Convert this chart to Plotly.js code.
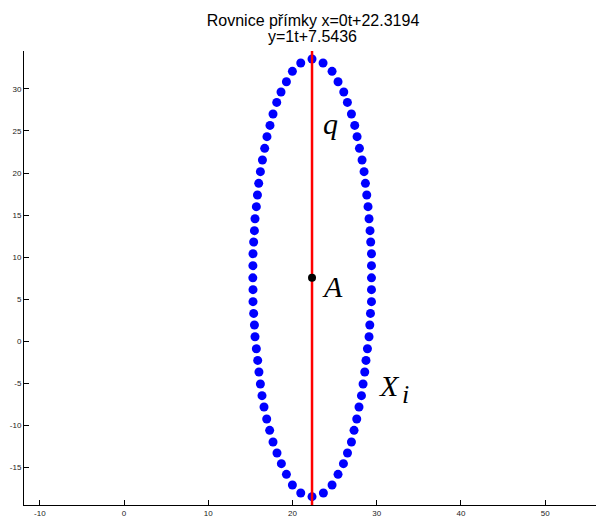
<!DOCTYPE html>
<html>
<head>
<meta charset="utf-8">
<script src="https://cdn.plot.ly/plotly-3.0.1.min.js"></script>
<style>
  html, body { margin: 0; padding: 0; background: #ffffff; }
  #chart { width: 596px; height: 518px; }
</style>
</head>
<body>
<div id="chart"></div>
<script>
// Line q: x = 0t + 22.3194, y = 1t + 7.5436
const lineDirX = 0, lineBaseX = 22.3194;
const lineDirY = 1, lineBaseY = 7.5436;
const lineT = [-27, 27];

// Point A on the line
const pointAX = [22.3194];
const pointAY = [7.5436];

// Points X_i: the two apexes, then the left and right flanks (top to bottom)
const apexX = [22.32, 22.32];
const apexY = [33.55, -18.46];
const flankY = [33.08, 32.08, 30.85, 29.63, 28.39, 27.01, 25.66, 24.32, 22.93, 21.55,
                20.16, 18.77, 17.39, 16.00, 14.57, 13.15, 11.80, 10.41, 8.99, 7.54,
                6.14, 4.71, 3.32, 1.94, 0.55, -0.88, -2.27, -3.64, -5.07, -6.46,
                -7.80, -9.23, -10.58, -11.96, -13.27, -14.54, -15.81, -17.07, -18.02];
const leftX = [20.98, 19.99, 19.28, 18.64, 18.13, 17.69, 17.33, 16.97, 16.70, 16.43,
               16.19, 15.99, 15.84, 15.71, 15.55, 15.48, 15.39, 15.31, 15.30, 15.29,
               15.31, 15.31, 15.39, 15.48, 15.55, 15.71, 15.87, 16.02, 16.19, 16.38,
               16.62, 16.94, 17.29, 17.69, 18.16, 18.68, 19.28, 19.99, 20.98];
const rightX = [23.63, 24.70, 25.41, 26.09, 26.52, 27.00, 27.39, 27.67, 27.95, 28.26,
                28.50, 28.66, 28.82, 28.97, 29.09, 29.21, 29.29, 29.38, 29.38, 29.38,
                29.38, 29.38, 29.26, 29.18, 29.09, 28.90, 28.73, 28.58, 28.38, 28.19,
                27.90, 27.63, 27.31, 27.00, 26.53, 26.05, 25.41, 24.70, 23.67];

// Axis ticks
const xTicks = [-10, 0, 10, 20, 30, 40, 50];
const yTicks = [-15, -10, -5, 0, 5, 10, 15, 20, 25, 30];

const titleLines = ['Rovnice přímky x=0t+22.3194', 'y=1t+7.5436'];

const ptsX = apexX.concat(leftX, rightX);
const ptsY = apexY.concat(flankY, flankY);

const lineX = lineT.map(t => lineDirX * t + lineBaseX);
const lineY = lineT.map(t => lineDirY * t + lineBaseY);

const traces = [
  {
    x: ptsX, y: ptsY, type: 'scatter', mode: 'markers',
    marker: { color: '#0000ff', size: 9, line: { width: 0 } },
    hoverinfo: 'skip'
  },
  {
    x: lineX, y: lineY, type: 'scatter', mode: 'lines',
    line: { color: '#ff0000', width: 2.5 },
    hoverinfo: 'skip'
  },
  {
    x: pointAX, y: pointAY, type: 'scatter', mode: 'markers',
    marker: { color: '#000000', size: 8 },
    hoverinfo: 'skip'
  }
];

const titleFont = { family: 'Liberation Sans, Arial, sans-serif', size: 16, color: '#000000' };
const tickFont = { family: 'Liberation Sans, Arial, sans-serif', size: 8, color: '#222222' };
const labelFont = { family: 'Liberation Serif, Times New Roman, serif', size: 30, color: '#000000' };
const subFont = { family: 'Liberation Serif, Times New Roman, serif', size: 26, color: '#000000' };

const axisCommon = {
  showgrid: false, zeroline: false, showline: true,
  linecolor: '#000000', linewidth: 1, mirror: false,
  ticks: 'inside', ticklen: 5, tickwidth: 1, tickcolor: '#000000',
  tickfont: tickFont, tickmode: 'array'
};

const layout = {
  width: 596, height: 518,
  margin: { l: 24, r: 0, t: 51, b: 13, pad: 0 },
  paper_bgcolor: '#ffffff', plot_bgcolor: '#ffffff',
  showlegend: false,
  title: {
    text: titleLines[0],
    font: titleFont,
    x: 313 / 596, xanchor: 'center', xref: 'container',
    y: 1 - 20 / 518, yanchor: 'middle', yref: 'container'
  },
  xaxis: Object.assign({}, axisCommon, {
    range: [-11.88, 56.04], tickvals: xTicks, ticktext: xTicks.map(String)
  }),
  yaxis: Object.assign({}, axisCommon, {
    range: [-19.45, 34.5], tickvals: yTicks, ticktext: yTicks.map(String)
  }),
  annotations: [
    // second line of the title
    { x: 0.5 + (312 - 310) / 572, y: (505 - 37) / 454, xref: 'paper', yref: 'paper',
      text: titleLines[1], showarrow: false, xanchor: 'center', yanchor: 'middle',
      font: titleFont },
    { x: 23.43, y: 25.94, xref: 'x', yref: 'y', text: '<i>q</i>', showarrow: false,
      xanchor: 'left', yanchor: 'middle', font: labelFont },
    { x: 23.22, y: 6.57, xref: 'x', yref: 'y', text: '<i>A</i>', showarrow: false,
      xanchor: 'left', yanchor: 'middle', font: labelFont },
    { x: 30.02, y: -5.19, xref: 'x', yref: 'y', text: '<i>X</i>', showarrow: false,
      xanchor: 'left', yanchor: 'middle', font: labelFont },
    { x: 32.78, y: -6.33, xref: 'x', yref: 'y', text: '<i>i</i>', showarrow: false,
      xanchor: 'left', yanchor: 'middle', font: subFont }
  ]
};

Plotly.newPlot('chart', traces, layout, { staticPlot: true, displayModeBar: false });
</script>
</body>
</html>
